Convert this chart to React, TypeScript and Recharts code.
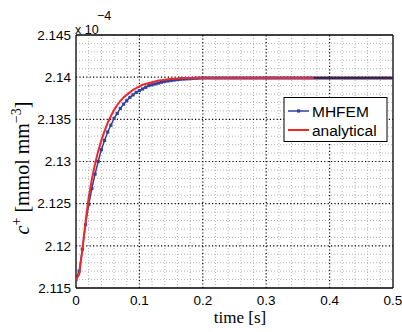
import React from 'react';
import { LineChart, Line, XAxis, YAxis, ReferenceLine } from 'recharts';

const TIME = [
  0, 0.005, 0.01, 0.015, 0.02, 0.025, 0.03, 0.035, 0.04, 0.045,
  0.05, 0.055, 0.06, 0.065, 0.07, 0.075, 0.08, 0.085, 0.09, 0.095,
  0.1, 0.105, 0.11, 0.115, 0.12, 0.125, 0.13, 0.135, 0.14, 0.145,
  0.15, 0.155, 0.16, 0.165, 0.17, 0.175, 0.18, 0.185, 0.19, 0.195,
  0.2, 0.205, 0.21, 0.215, 0.22, 0.225, 0.23, 0.235, 0.24, 0.245,
  0.25, 0.255, 0.26, 0.265, 0.27, 0.275, 0.28, 0.285, 0.29, 0.295,
  0.3, 0.305, 0.31, 0.315, 0.32, 0.325, 0.33, 0.335, 0.34, 0.345,
  0.35, 0.355, 0.36, 0.365, 0.37, 0.375, 0.38, 0.385, 0.39, 0.395,
  0.4, 0.405, 0.41, 0.415, 0.42, 0.425, 0.43, 0.435, 0.44, 0.445,
  0.45, 0.455, 0.46, 0.465, 0.47, 0.475, 0.48, 0.485, 0.49, 0.495,
  0.5,
];

// numerical solution (MHFEM), x 1e-4 mmol/mm^3
const MHFEM = [
  2.1160, 2.1170, 2.1196, 2.1225, 2.1249, 2.1268, 2.1285, 2.1300, 2.1314, 2.1325,
  2.1335, 2.1343, 2.1351, 2.1357, 2.1363, 2.1368, 2.1372, 2.1376, 2.1379, 2.1382,
  2.1384, 2.1386, 2.1388, 2.1390, 2.1391, 2.1392, 2.1393, 2.1394, 2.1395, 2.13955,
  2.1396, 2.13966, 2.1397, 2.13975, 2.13978, 2.1398, 2.13983, 2.13986, 2.13987, 2.13989,
  2.1399, 2.1399, 2.1399, 2.1399, 2.1399, 2.1399, 2.1399, 2.1399, 2.1399, 2.1399,
  2.1399, 2.1399, 2.1399, 2.1399, 2.1399, 2.1399, 2.1399, 2.1399, 2.1399, 2.1399,
  2.1399, 2.1399, 2.1399, 2.1399, 2.1399, 2.1399, 2.1399, 2.1399, 2.1399, 2.1399,
  2.1399, 2.1399, 2.1399, 2.1399, 2.1399, 2.1399, 2.1399, 2.1399, 2.1399, 2.1399,
  2.1399, 2.1399, 2.1399, 2.1399, 2.1399, 2.1399, 2.1399, 2.1399, 2.1399, 2.1399,
  2.1399, 2.1399, 2.1399, 2.1399, 2.1399, 2.1399, 2.1399, 2.1399, 2.1399, 2.1399,
  2.1399,
];

const ANALYTICAL = [
  2.1160, 2.1166, 2.1195, 2.1228, 2.1257, 2.1279, 2.1297, 2.1312, 2.1325, 2.1336,
  2.1346, 2.1354, 2.1361, 2.1367, 2.1372, 2.1376, 2.1379, 2.1382, 2.1385, 2.1387,
  2.1389, 2.1391, 2.1392, 2.1393, 2.1394, 2.1395, 2.1396, 2.13965, 2.1397, 2.13975,
  2.1398, 2.13982, 2.13984, 2.13987, 2.13989, 2.1399, 2.1399, 2.1399, 2.1399, 2.1399,
  2.1399, 2.1399, 2.1399, 2.1399, 2.1399, 2.1399, 2.1399, 2.1399, 2.1399, 2.1399,
  2.1399, 2.1399, 2.1399, 2.1399, 2.1399, 2.1399, 2.1399, 2.1399, 2.1399, 2.1399,
  2.1399, 2.1399, 2.1399, 2.1399, 2.1399, 2.1399, 2.1399, 2.1399, 2.1399, 2.1399,
  2.1399, 2.1399, 2.1399, 2.1399, 2.1399, 2.1399, 2.1399, 2.1399, 2.1399, 2.1399,
  2.1399, 2.1399, 2.1399, 2.1399, 2.1399, 2.1399, 2.1399, 2.1399, 2.1399, 2.1399,
  2.1399, 2.1399, 2.1399, 2.1399, 2.1399, 2.1399, 2.1399, 2.1399, 2.1399, 2.1399,
  2.1399,
];

// the dark overlay at the tail of the curves starts here
const DARK_FROM = 0.375;

const X_TICKS = [0, 0.1, 0.2, 0.3, 0.4, 0.5];
const Y_TICKS = [2.115, 2.12, 2.125, 2.13, 2.135, 2.14, 2.145];
const X_MAJOR = [0.1, 0.2, 0.3, 0.4];
const Y_MAJOR = [2.12, 2.125, 2.13, 2.135, 2.14];
const X_MINOR = [0.02, 0.04, 0.06, 0.08, 0.12, 0.14, 0.16, 0.18, 0.22, 0.24, 0.26, 0.28, 0.32, 0.34, 0.36, 0.38, 0.42, 0.44, 0.46, 0.48];
const Y_MINOR = [
  2.116, 2.117, 2.118, 2.119, 2.121, 2.122, 2.123, 2.124, 2.126, 2.127, 2.128, 2.129,
  2.131, 2.132, 2.133, 2.134, 2.136, 2.137, 2.138, 2.139, 2.141, 2.142, 2.143, 2.144,
];

const BLUE = '#34409f';
const RED = '#f02828';
const SANS = '"Liberation Sans", Arial, sans-serif';
const SERIF = '"Liberation Serif", "Times New Roman", serif';

const data = TIME.map((t, i) => ({
  t,
  mhfem: MHFEM[i],
  analytical: ANALYTICAL[i],
  dark: t >= DARK_FROM ? MHFEM[i] : null,
}));

const Square = (props: any) => {
  const { cx, cy, index } = props;
  if (cx == null || cy == null) return <g key={`m-${index}`} />;
  return <rect key={`m-${index}`} x={cx - 1.6} y={cy - 1.6} width={3.2} height={3.2} fill={BLUE} />;
};

const tickStyle = { fontSize: 13.5, fontFamily: SANS, fill: '#000' };

export default function App() {
  return (
    <div style={{ position: 'absolute', left: 0, top: 0, width: 402, height: 332, background: '#fff' }}>
      <LineChart width={402} height={332} data={data} margin={{ top: 35, right: 9, bottom: 14, left: 0 }}>
        <XAxis
          dataKey="t"
          type="number"
          domain={[0, 0.5]}
          ticks={X_TICKS}
          allowDataOverflow
          height={30}
          tickSize={0}
          tickMargin={7}
          tick={tickStyle}
          axisLine={{ stroke: '#000', strokeWidth: 1.3 }}
          tickLine={false}
        />
        <YAxis
          type="number"
          domain={[2.115, 2.145]}
          ticks={Y_TICKS}
          allowDataOverflow
          width={76}
          tickSize={0}
          tickMargin={5}
          tick={tickStyle}
          tickFormatter={(v: number) => String(v)}
          axisLine={{ stroke: '#000', strokeWidth: 1.3 }}
          tickLine={false}
        />
        {X_MINOR.map(v => (
          <ReferenceLine key={`xm-${v}`} x={v} stroke="#b4b4b4" strokeWidth={1} strokeDasharray="1 2" />
        ))}
        {Y_MINOR.map(v => (
          <ReferenceLine key={`ym-${v}`} y={v} stroke="#b4b4b4" strokeWidth={1} strokeDasharray="1 2" />
        ))}
        {X_MAJOR.map(v => (
          <ReferenceLine key={`xM-${v}`} x={v} stroke="#000" strokeWidth={1.2} strokeDasharray="1.2 2.2" />
        ))}
        {Y_MAJOR.map(v => (
          <ReferenceLine key={`yM-${v}`} y={v} stroke="#000" strokeWidth={1.2} strokeDasharray="1.2 2.2" />
        ))}
        <ReferenceLine y={2.145} stroke="#000" strokeWidth={1.3} />
        <ReferenceLine x={0.5} stroke="#000" strokeWidth={1.3} />
        <Line
          dataKey="mhfem"
          type="linear"
          stroke={BLUE}
          strokeWidth={1.5}
          dot={Square}
          isAnimationActive={false}
        />
        <Line
          dataKey="analytical"
          type="linear"
          stroke={RED}
          strokeWidth={2}
          dot={false}
          zIndex={700}
          isAnimationActive={false}
        />
        <Line
          dataKey="dark"
          type="linear"
          stroke="#1c1c2a"
          strokeWidth={1.3}
          dot={false}
          connectNulls={false}
          zIndex={710}
          isAnimationActive={false}
        />
      </LineChart>
      <svg
        width={402}
        height={332}
        style={{ position: 'absolute', left: 0, top: 0, pointerEvents: 'none' }}
      >
        {/* exponent */}
        <text x={75} y={33.5} fontFamily={SANS} fontSize={12.5} fill="#000">x 10</text>
        <text x={97} y={20} fontFamily={SANS} fontSize={12.5} fill="#000">−4</text>
        {/* axis labels */}
        <text x={240} y={323} fontFamily={SERIF} fontSize={17} textAnchor="middle" fill="#000">time [s]</text>
        <text
          transform="translate(29,168) rotate(-90)"
          fontFamily={SERIF}
          fontSize={20}
          textAnchor="middle"
          fill="#000"
        >
          <tspan fontStyle="italic">c</tspan>
          <tspan dy={-8} fontSize={14}>+</tspan>
          <tspan dy={8}> [mmol mm</tspan>
          <tspan dy={-8} fontSize={14}>−3</tspan>
          <tspan dy={8}>]</tspan>
        </text>
        {/* legend */}
        <rect x={284} y={97.5} width={103} height={44} fill="#fff" stroke="#000" strokeWidth={1} />
        <line x1={288} y1={111} x2={309} y2={111} stroke={BLUE} strokeWidth={1.5} />
        <rect x={297} y={109.4} width={3.2} height={3.2} fill={BLUE} />
        <text x={312} y={116.5} fontFamily={SANS} fontSize={15.5} fill="#000">MHFEM</text>
        <line x1={288} y1={130} x2={309} y2={130} stroke={RED} strokeWidth={2} />
        <text x={312} y={135.5} fontFamily={SANS} fontSize={15.5} fill="#000">analytical</text>
      </svg>
    </div>
  );
}
